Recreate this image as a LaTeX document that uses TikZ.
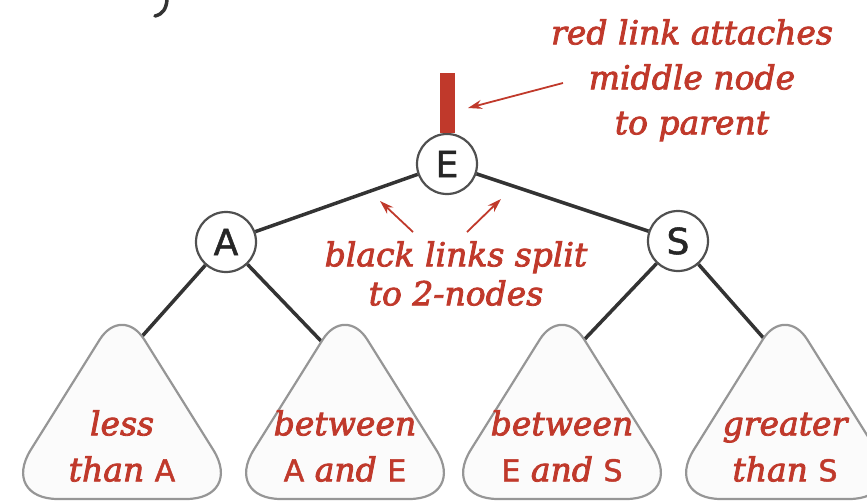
\documentclass[tikz,border=0pt]{standalone}
\usepackage{fontspec}
\setmainfont{DejaVu Serif}[ItalicFeatures={FakeBold=2.5}]
\newfontfamily\labelsans{DejaVu Sans}[FakeBold=1.5]
\usetikzlibrary{arrows.meta}
\definecolor{notered}{RGB}{192,57,43}
\definecolor{linkgray}{RGB}{51,51,51}
\definecolor{ringgray}{RGB}{80,80,80}
\definecolor{subgray}{RGB}{150,150,150}
\definecolor{subfill}{RGB}{251,251,251}
\newcommand\keyletter[1]{{\upshape\labelsans\fontsize{30}{30}\selectfont #1}}
\newcommand\asc{\vphantom{l}}
\tikzset{
  keynode/.style={circle, draw=ringgray, line width=2.2pt, fill=white,
    minimum size=60pt, inner sep=0pt,
    font=\labelsans\fontsize{36}{36}\selectfont, text=black!85},
  link/.style={draw=linkgray, line width=3.5pt},
  redlink/.style={draw=notered, line width=15pt, line cap=butt},
  note/.style={text=notered, font=\itshape\fontsize{33}{46}\selectfont,
    align=center, inner sep=0pt},
  pointer/.style={draw=notered, line width=1.8pt,
    -{Stealth[length=14pt,width=9pt]}},
  subtree/.style={draw=subgray, line width=2.2pt, fill=subfill},
}
\begin{document}
\begin{tikzpicture}[x=1pt,y=-1pt]
\useasboundingbox (0,0) rectangle (867,503);

% tail of a glyph from the line above
\draw[line width=3.5pt, black!80, line cap=round]
  (167,0) .. controls (166,9) and (163,14) .. (155,16);

% the three nodes of the split 4-node
\node[keynode] (E) at (447,164) {E};
\node[keynode] (A) at (226,242) {A};
\node[keynode] (S) at (678,241) {S};

% attachment points at the tops of the four subtrees
\coordinate (t1) at (137,342);
\coordinate (t2) at (322,342);
\coordinate (t3) at (582,342);
\coordinate (t4) at (767,342);

% black links
\draw[link] (E) -- (A);
\draw[link] (E) -- (S);
\draw[link] (A) -- (t1);
\draw[link] (A) -- (t2);
\draw[link] (S) -- (t3);
\draw[link] (S) -- (t4);

% red link up to the parent
\coordinate (up) at (447,73);
\draw[redlink] (E.north) -- (up);

% subtrees: rounded triangles, broad at the base, tighter at the apex
\foreach \c in {122,345,562,785}
  \draw[subtree] (\c,499) [rounded corners=58pt] -- (\c+122,499)
    [rounded corners=42pt] -- (\c,304)
    [rounded corners=58pt] -- (\c-122,499) -- cycle;

% subtree labels
\node[note, anchor=north] (l1) at (122,410) {\asc less\\than \keyletter{A}};
\node[note, anchor=north] (l2) at (345,410) {\asc between\\\keyletter{A} and \keyletter{E}};
\node[note, anchor=north] (l3) at (562,410) {\asc between\\\keyletter{E} and \keyletter{S}};
\node[note, anchor=north] (l4) at (785,410) {\asc greater\\than \keyletter{S}};

% annotations
\node[note, anchor=north, font=\itshape\fontsize{33}{45}\selectfont] (redtxt)
  at (692,19) {\asc red link attaches\\middle node\\to parent};
\node[note, anchor=north, font=\itshape\fontsize{33}{39}\selectfont] (blacktxt)
  at (456,241) {\asc black links split\\to 2-nodes};

\coordinate (p1s) at (563,83);
\coordinate (p1e) at (468,108);
\draw[pointer] (p1s) -- (p1e);
\coordinate (p2s) at (413,232);
\coordinate (p2e) at (380,201);
\draw[pointer] (p2s) -- (p2e);
\coordinate (p3s) at (467,232);
\coordinate (p3e) at (501,199);
\draw[pointer] (p3s) -- (p3e);
\end{tikzpicture}
\end{document}
